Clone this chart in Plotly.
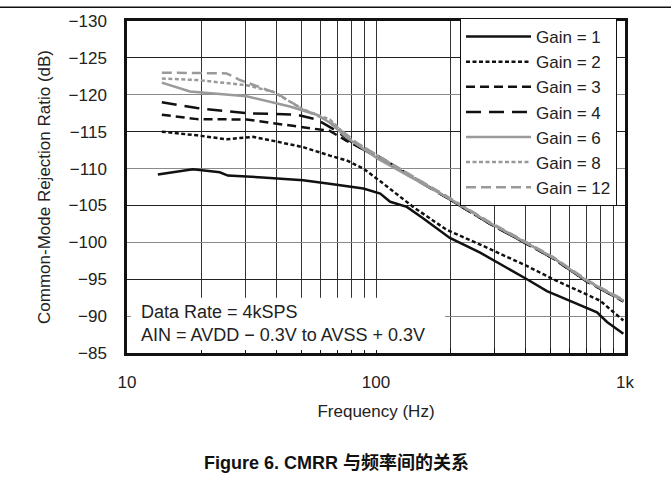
import plotly.graph_objects as go

# ---------------- data ----------------
freq_g1 = [13.3, 18.4, 23.6, 25.4, 35, 51, 65, 79, 89, 104, 114, 133, 154, 198, 262, 404, 486, 618, 772, 847, 985]
cmrr_g1 = [-109.2, -109.9, -109.5, -109.05, -108.8, -108.4, -107.95, -107.6, -107.3, -106.6, -105.5, -104.8,
           -103.3, -100.6, -98.6, -95.0, -93.4, -91.9, -90.5, -89.2, -87.6]

freq_g2 = [13.8, 19.1, 25.1, 32.1, 38.7, 51, 65.3, 76.2, 88.9, 103.8, 141, 192, 262, 403, 515, 659, 794, 985]
cmrr_g2 = [-115.0, -114.5, -113.97, -114.3, -113.75, -112.9, -111.75, -111.1, -110.0, -108.3, -104.8, -101.7,
           -99.7, -96.8, -95.0, -93.4, -92.1, -89.4]

freq_g3 = [13.8, 19.1, 30.2, 41.2, 54.3, 65.3, 76.2, 88.9, 102, 198, 287, 403, 515, 702, 985]
cmrr_g3 = [-117.3, -116.7, -116.65, -116.0, -115.5, -115.1, -113.75, -112.6, -111.7, -105.8, -102.5, -99.8,
           -97.8, -94.7, -92.0]

freq_g4 = [13.8, 19.1, 30.2, 48.0, 57.8, 69.5, 83.6, 102, 198, 287, 403, 515, 702, 985]
cmrr_g4 = [-119.0, -118.2, -117.5, -117.3, -116.65, -115.1, -113.1, -111.5, -105.8, -102.5, -99.8, -97.8,
           -94.7, -92.0]

freq_g6 = [13.8, 17.9, 30.2, 45.1, 57.8, 65.3, 76.2, 102, 198, 287, 403, 515, 702, 985]
cmrr_g6 = [-121.65, -120.45, -119.8, -118.4, -117.3, -116.2, -114.2, -111.3, -105.9, -102.6, -99.9, -97.9,
           -94.8, -92.1]

freq_g8 = [13.8, 19.1, 30.2, 38.7, 51, 65.3, 78.7, 102, 198, 287, 403, 515, 702, 985]
cmrr_g8 = [-122.2, -122.0, -121.3, -120.4, -118.0, -116.65, -114.0, -111.7, -105.9, -102.6, -99.9, -97.9,
           -94.8, -92.1]

freq_g12 = [13.8, 16.3, 25.1, 28.4, 39.9, 51, 65.3, 83.6, 102, 198, 287, 403, 515, 702, 985]
cmrr_g12 = [-123.0, -123.0, -122.9, -122.0, -120.2, -118.0, -116.4, -113.5, -111.7, -106.0, -102.7, -100.0,
            -98.0, -94.9, -92.2]

series_names = ["Gain = 1", "Gain = 2", "Gain = 3", "Gain = 4", "Gain = 6", "Gain = 8", "Gain = 12"]

x_tickvals = [10, 20, 30, 40, 50, 60, 70, 80, 90, 100, 200, 300, 400, 500, 600, 700, 800, 900, 1000]
x_ticktext = ["10", "", "", "", "", "", "", "", "", "100", "", "", "", "", "", "", "", "", "1k"]
y_tickvals = [-130, -125, -120, -115, -110, -105, -100, -95, -90, -85]
y_dark_grid = [-125, -115, -105, -95]

note_lines = ["Data Rate = 4kSPS", "AIN = AVDD \u2212 0.3V to AVSS + 0.3V"]
caption = "Figure 6. CMRR 与频率间的关系"

# ---------------- styling ----------------
BLACK = "#111111"
GRAY = "#9a9a9a"
FONT = "Liberation Sans, Arial, Noto Sans CJK SC, sans-serif"

styles = [
    dict(color=BLACK, dash="solid"),
    dict(color=BLACK, dash="4px,2.5px"),
    dict(color=BLACK, dash="9px,5px"),
    dict(color=BLACK, dash="15px,8px"),
    dict(color=GRAY, dash="solid"),
    dict(color=GRAY, dash="4px,2.5px"),
    dict(color=GRAY, dash="10px,5px"),
]

xs = [freq_g1, freq_g2, freq_g3, freq_g4, freq_g6, freq_g8, freq_g12]
ys = [cmrr_g1, cmrr_g2, cmrr_g3, cmrr_g4, cmrr_g6, cmrr_g8, cmrr_g12]

fig = go.Figure()
for name, x, y, st in zip(series_names, xs, ys, styles):
    fig.add_trace(go.Scatter(x=x, y=y, mode="lines", name=name,
                             line=dict(color=st["color"], dash=st["dash"], width=2.5)))

# overlay axis just for darker horizontal grid lines
fig.add_trace(go.Scatter(x=[None], y=[None], yaxis="y2", showlegend=False, hoverinfo="skip"))

W, H = 671, 497
L, R, T, B = 127, 46, 17, 144
pw, ph = W - L - R, H - T - B

fig.update_layout(
    width=W, height=H,
    margin=dict(l=L, r=R, t=T, b=B),
    paper_bgcolor="white", plot_bgcolor="white",
    font=dict(family=FONT, size=17, color="#222"),
    showlegend=True,
    legend=dict(
        x=(460 - L) / pw, y=1 - (14 - T) / ph, xanchor="left", yanchor="top",
        bgcolor="white", bordercolor=BLACK, borderwidth=1,
        font=dict(size=17, color="#222"), tracegroupgap=0,
        itemwidth=65,
    ),
    xaxis=dict(
        type="log", range=[1, 3],
        tickvals=x_tickvals, ticktext=x_ticktext,
        ticks="inside", ticklen=5, tickcolor=BLACK,
        showgrid=True, gridcolor="#333", gridwidth=1,
        showline=True, linecolor=BLACK, linewidth=2.5, mirror=True,
        zeroline=False, ticklabelstandoff=12,
        title=dict(text="Frequency (Hz)", font=dict(size=17), standoff=14),
    ),
    yaxis=dict(
        range=[-85, -130],
        tickvals=y_tickvals,
        ticks="", showgrid=True, gridcolor="#8a8a8a", gridwidth=1,
        showline=True, linecolor=BLACK, linewidth=2.5, mirror=True,
        zeroline=False, ticklabelstandoff=14,
        title=dict(text="Common-Mode Rejection Ratio (dB)", font=dict(size=17), standoff=14),
    ),
    yaxis2=dict(
        overlaying="y", range=[-85, -130], tickvals=y_dark_grid,
        showticklabels=False, ticks="", showgrid=True, gridcolor="#222", gridwidth=1,
        showline=False, zeroline=False,
    ),
)

# white note box in lower-left of the plot
fig.add_shape(type="rect", xref="paper", yref="paper",
              x0=(131 - L) / pw, x1=(445 - L) / pw, y0=(353 - 350) / ph, y1=(353 - 297) / ph,
              fillcolor="white", line=dict(width=0), layer="above")
for i, txt in enumerate(note_lines):
    fig.add_annotation(xref="paper", yref="paper", x=(139 - L) / pw, y=(353 - (311 + 24 * i)) / ph,
                       xanchor="left", yanchor="middle", text=txt, showarrow=False,
                       font=dict(size=18, color="#222"))

# top page rule
fig.add_shape(type="line", xref="paper", yref="paper",
              x0=-L / pw, x1=(W - L) / pw, y0=1 + (T - 3) / ph, y1=1 + (T - 3) / ph,
              line=dict(color=BLACK, width=1.5))

# caption
fig.add_annotation(xref="paper", yref="paper", x=(336 - L) / pw, y=(353 - 464) / ph,
                   xanchor="center", yanchor="middle", showarrow=False,
                   text="<b>" + caption + "</b>", font=dict(size=18, color="#111"))

fig.write_html("out.html", config={"displayModeBar": False},
               post_script="document.body.style.margin='0';document.body.style.overflow='hidden';")
